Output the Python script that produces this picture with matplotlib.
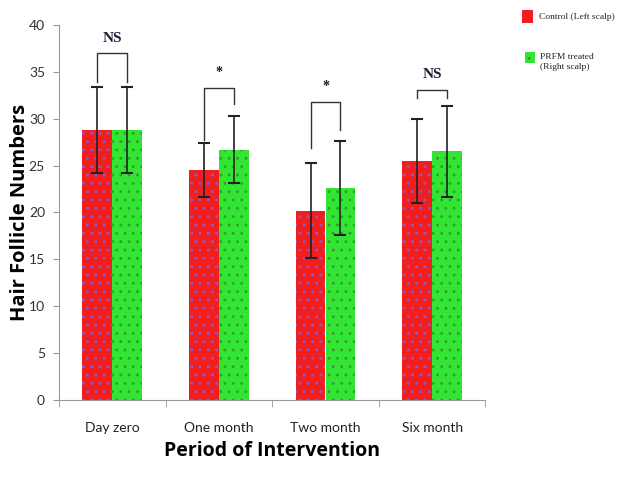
import numpy as np
import matplotlib.pyplot as plt
from matplotlib.patches import Rectangle

categories = ['Day zero', 'One month', 'Two month', 'Six month']
control = [28.8, 24.5, 20.2, 25.5]
control_err = [4.6, 2.9, 5.1, 4.5]
prfm = [28.8, 26.7, 22.6, 26.5]
prfm_err = [4.6, 3.6, 5.0, 4.9]
sig_labels = ['NS', '*', '*', 'NS']
bracket_top = [37.0, 33.3, 31.8, 33.1]
bracket_left = [33.9, 27.7, 26.9, 32.2]
bracket_right = [33.9, 31.6, 28.8, 32.2]

plt.rcParams['hatch.linewidth'] = 0.9
fig = plt.figure(figsize=(6.2, 4.78), dpi=100)
ax = fig.add_axes([0.095, 0.163, 0.688, 0.785])

x = np.arange(len(categories))
w = 0.28
ax.bar(x - w/2, control, w, color='#f21d1d', edgecolor='#8a5acb', hatch='..', linewidth=0)
ax.bar(x + w/2, prfm, w, color='#33e533', edgecolor='#2f9f2f', hatch='..', linewidth=0)
ax.errorbar(x - w/2, control, yerr=control_err, fmt='none', ecolor='#222222', elinewidth=1.2, capsize=4, capthick=1.5)
ax.errorbar(x + w/2, prfm, yerr=prfm_err, fmt='none', ecolor='#222222', elinewidth=1.2, capsize=4, capthick=1.5)

for i in range(len(categories)):
    xl, xr = x[i] - w/2, x[i] + w/2
    ax.plot([xl, xl, xr, xr], [bracket_left[i], bracket_top[i], bracket_top[i], bracket_right[i]],
            color='#333333', lw=1)
    ax.text(x[i], bracket_top[i] + 0.9, sig_labels[i], ha='center', va='bottom',
            family='Liberation Serif', fontweight='bold', fontsize=11 if sig_labels[i] == 'NS' else 10,
            color='#1a1a2e')

ax.set_xlim(-0.5, 3.5)
ax.set_ylim(0, 40)
ax.set_yticks(range(0, 41, 5))
ax.set_xticks(x)
ax.set_xticklabels(categories, family='Lato', fontsize=10, color='#222222')
ax.set_xticks(np.arange(-0.5, 3.6, 1), minor=True)
ax.tick_params(axis='x', which='major', length=0, pad=16)
ax.tick_params(axis='x', which='minor', length=5, color='#999999')
ax.tick_params(axis='y', length=4, color='#999999', labelsize=10, labelcolor='#333333', pad=6)
for lab in ax.get_yticklabels():
    lab.set_family('Lato')
for s in ['top', 'right']:
    ax.spines[s].set_visible(False)
for s in ['left', 'bottom']:
    ax.spines[s].set_color('#999999')

ax.set_ylabel('Hair Follicle Numbers', family='Open Sans', fontweight='bold', fontsize=14.5)
ax.yaxis.set_label_coords(-0.068, 0.5)
ax.set_xlabel('Period of Intervention', family='Open Sans', fontweight='bold', fontsize=14, labelpad=5)

# legend
fig.patches.append(Rectangle((522/620, 1 - 23/478), 11/620, 13/478, transform=fig.transFigure,
                             facecolor='#f21d1d', edgecolor='none'))
fig.patches.append(Rectangle((525/620, 1 - 63/478), 10/620, 11/478, transform=fig.transFigure,
                             facecolor='#33e533', edgecolor='#2f9f2f', hatch='..', linewidth=0))
fig.text(539/620, 1 - 17/478, 'Control (Left scalp)', family='Liberation Serif', fontsize=6.8,
         va='center', color='#222222')
fig.text(540/620, 1 - 62/478, 'PRFM treated\n(Right scalp)', family='Liberation Serif', fontsize=6.8,
         va='center', color='#222222', linespacing=1.2)

fig.savefig('out.png', dpi=100)
